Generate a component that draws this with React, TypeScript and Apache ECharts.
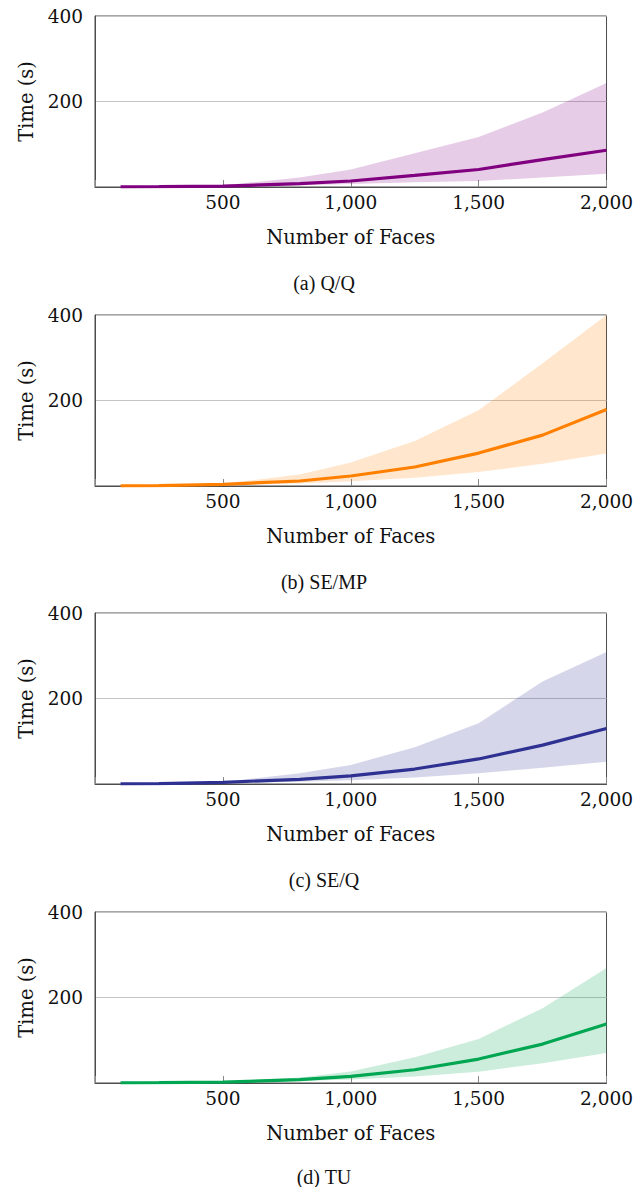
import React, { useEffect, useRef } from "react";
import * as echarts from "echarts";

// Number of faces (x values)
const faces = [100, 250, 500, 800, 1000, 1250, 1500, 1750, 2000];

// (a) Q/Q
const qqMean = [0.3, 0.8, 2, 8, 14, 27, 41, 64, 86];
const qqUpper = [0.4, 1, 4, 22, 41, 79, 117, 174, 243];
const qqLower = [0.2, 0.5, 1, 4, 7, 11, 14, 22, 31];

// (b) SE/MP
const semMean = [0.3, 0.8, 4, 11.7, 23.4, 44.5, 77, 119, 179];
const semUpper = [0.4, 1, 5, 27, 55, 105, 177, 287, 400];
const semLower = [0.2, 0.5, 2, 6, 11, 19.5, 33, 52, 76];

// (c) SE/Q
const seqMean = [0.3, 0.8, 4, 11, 19, 35, 58.6, 91, 130];
const seqUpper = [0.4, 1, 5, 25, 44.5, 86, 142, 240, 309];
const seqLower = [0.2, 0.5, 2, 5.5, 8.6, 15, 25, 38, 52];

// (d) TU
const tuMean = [0.3, 0.8, 2, 8, 15.6, 31, 56, 91, 138];
const tuUpper = [0.4, 1, 3, 13, 27, 60, 103, 175, 269];
const tuLower = [0.2, 0.5, 1, 4.7, 8, 15, 26.5, 46, 70];

const captions = ["(a) Q/Q", "(b) SE/MP", "(c) SE/Q", "(d) TU"];
const colors = ["#800080", "#ff8000", "#2e3192", "#00a651"];
const yTicks = [0, 200, 400];
const xTicks = [0, 500, 1000, 1500, 2000];
const xTitle = "Number of Faces";
const yTitle = "Time (s)";

const panelData = [
  { mean: qqMean, upper: qqUpper, lower: qqLower },
  { mean: semMean, upper: semUpper, lower: semLower },
  { mean: seqMean, upper: seqUpper, lower: seqLower },
  { mean: tuMean, upper: tuUpper, lower: tuLower },
];

const gridTops = [16, 315, 613, 912];
const gridHeight = 171;
const captionY = [283, 582, 880, 1177];

export default function App() {
  const ref = useRef<HTMLDivElement>(null);
  useEffect(() => {
    if (!ref.current) return;
    const chart = echarts.init(ref.current, null, { renderer: "svg" });
    const font = "DejaVu Serif";
    const grids: any[] = [];
    const xAxes: any[] = [];
    const yAxes: any[] = [];
    const series: any[] = [];
    const graphics: any[] = [];
    panelData.forEach((p, i) => {
      grids.push({
        left: 95,
        width: 514,
        top: gridTops[i],
        height: gridHeight,
        show: true,
        borderColor: "#4d4d4d",
        borderWidth: 1,
        backgroundColor: "transparent",
      });
      xAxes.push({
        type: "value",
        gridIndex: i,
        min: xTicks[0],
        max: xTicks[xTicks.length - 1],
        interval: 500,
        name: xTitle,
        nameLocation: "middle",
        nameGap: 40,
        nameTextStyle: { fontFamily: font, fontSize: 19.5, color: "#111" },
        axisLine: { show: true, lineStyle: { color: "#4d4d4d", width: 1 } },
        axisTick: { show: true, inside: true, length: 7, lineStyle: { color: "#888" } },
        axisLabel: {
          fontFamily: font,
          fontSize: 18.5,
          color: "#111",
          margin: 6,
          formatter: (v: number) => (v === 0 ? "" : v.toLocaleString("en-US")),
        },
        splitLine: { show: false },
      });
      yAxes.push({
        type: "value",
        gridIndex: i,
        min: yTicks[0],
        max: yTicks[yTicks.length - 1],
        interval: 200,
        name: yTitle,
        nameLocation: "middle",
        nameRotate: 90,
        nameGap: 57,
        nameTextStyle: { fontFamily: font, fontSize: 19.5, color: "#111" },
        axisLine: { show: true, lineStyle: { color: "#4d4d4d", width: 1 } },
        axisTick: { show: false },
        axisLabel: {
          fontFamily: font,
          fontSize: 18.5,
          color: "#111",
          margin: 12,
          formatter: (v: number) => (v === 0 ? "" : String(v)),
        },
        splitLine: { show: true, lineStyle: { color: "#c4c4c4", width: 1 } },
      });
      const bandData = faces.map((x, k) => [x, p.lower[k], p.upper[k]]);
      series.push({
        type: "custom",
        xAxisIndex: i,
        yAxisIndex: i,
        silent: true,
        z: 2,
        data: bandData,
        encode: { x: 0, y: [1, 2] },
        renderItem: (params: any, api: any) => {
          if (params.dataIndex !== 0) return null;
          const top = bandData.map((d) => api.coord([d[0], d[2]]));
          const bottom = bandData
            .slice()
            .reverse()
            .map((d) => api.coord([d[0], d[1]]));
          return {
            type: "polygon",
            shape: { points: top.concat(bottom) },
            style: { fill: colors[i], opacity: 0.2 },
          };
        },
      });
      series.push({
        type: "line",
        xAxisIndex: i,
        yAxisIndex: i,
        symbol: "none",
        lineStyle: { color: colors[i], width: 3.2 },
        data: faces.map((x, k) => [x, p.mean[k]]),
        z: 3,
      });
      graphics.push({
        type: "text",
        x: 324,
        y: captionY[i],
        style: {
          text: captions[i],
          fontFamily: "Liberation Serif",
          fontSize: 20,
          fill: "#111",
          align: "center",
          verticalAlign: "middle",
        },
      });
    });
    chart.setOption({
      animation: false,
      backgroundColor: "#ffffff",
      grid: grids,
      xAxis: xAxes,
      yAxis: yAxes,
      series,
      graphic: graphics,
    });
    return () => chart.dispose();
  }, []);
  return (
    <div
      ref={ref}
      style={{ position: "absolute", left: 0, top: 0, width: 636, height: 1187 }}
    />
  );
}
